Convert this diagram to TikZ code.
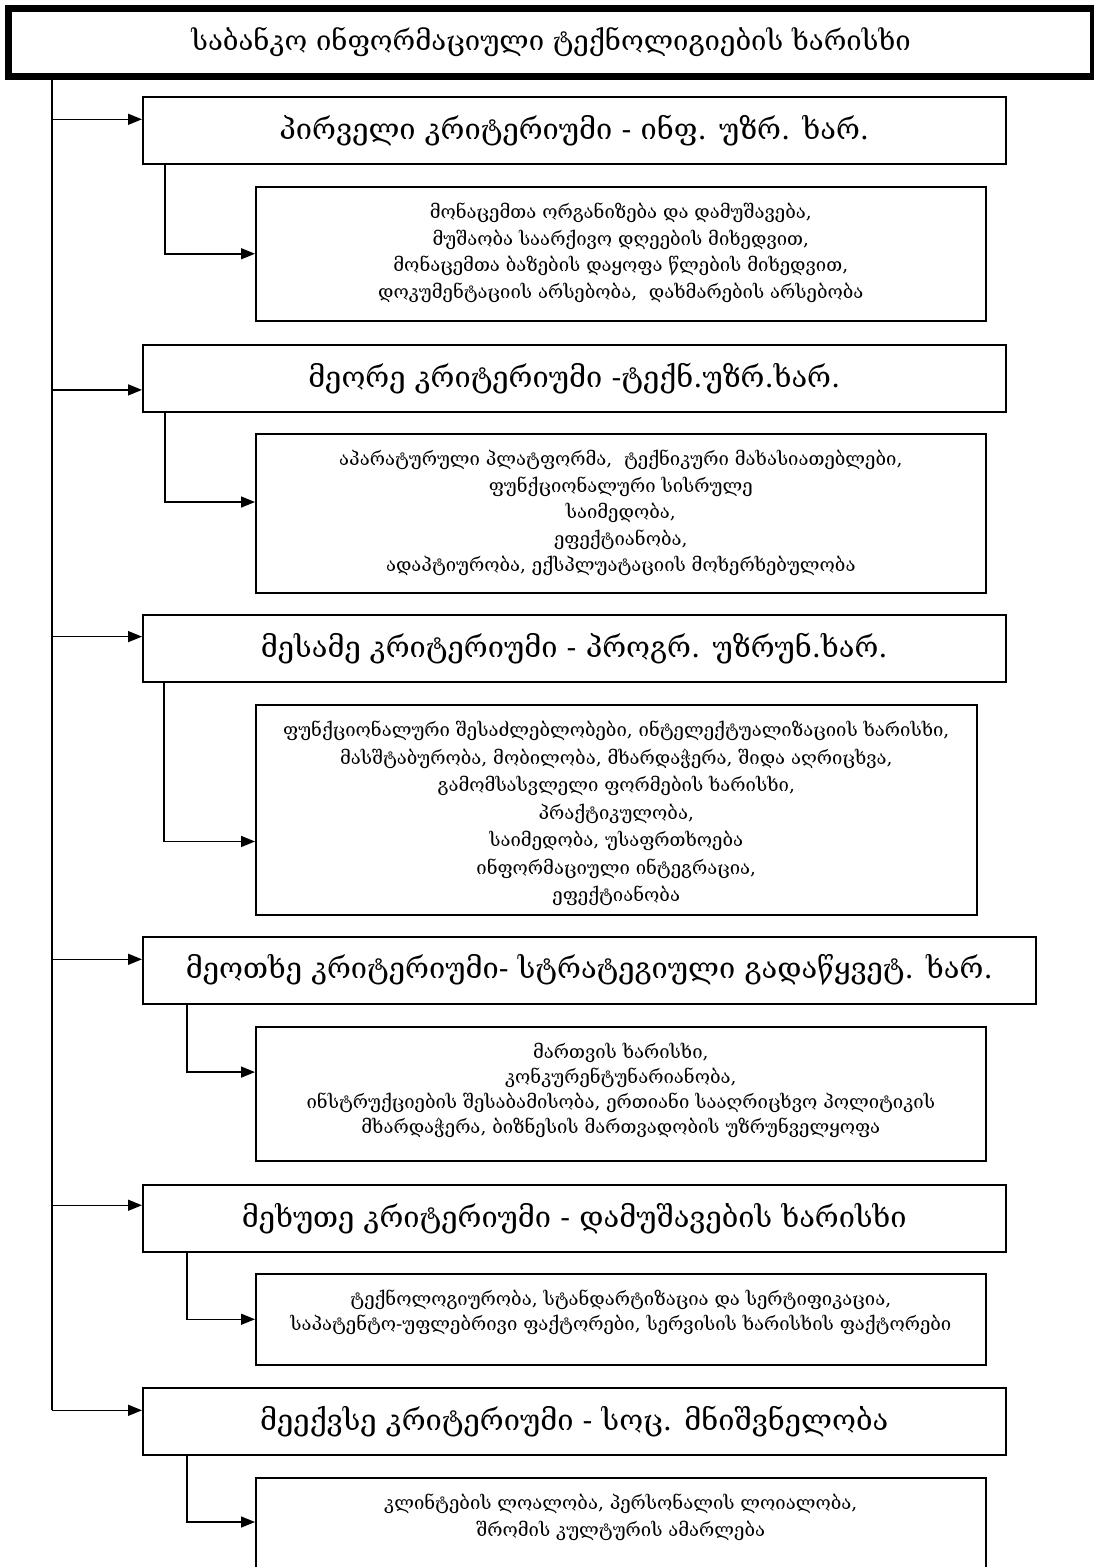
\documentclass[tikz,border=0pt]{standalone}
\usepackage{fontspec}
\setmainfont{DejaVu Serif}
\usetikzlibrary{arrows.meta,calc}
% detail text: fixed-size box, lines set from the top
\newcommand\detail[3]{\parbox[c][#2][t]{#1}{\centering\rule{0pt}{32pt}#3}}
\begin{document}
\begin{tikzpicture}[x=1pt,y=-1pt,
  box/.style={draw, line width=1.5pt, inner sep=0pt, anchor=north west, align=center},
  crit/.style={box, minimum height=67pt, font=\fontsize{29}{33}\selectfont},
  sub/.style={box, font=\fontsize{18.5}{26.5}\selectfont},
  ln/.style={line width=1.5pt},
  arr/.style={ln, -{Triangle[length=14pt,width=11pt]}}]
\useasboundingbox (0,0) rectangle (1094,1567);

% heading
\node[draw, line width=7pt, anchor=north west, inner sep=0pt,
      minimum width=1085pt, minimum height=68pt,
      font=\fontsize{27.5}{32}\selectfont] (title) at (5,5)
  {საბანკო ინფორმაციული ტექნოლიგიების ხარისხი};

% criteria and their details
\node[crit, minimum width=863pt] (c1) at (142,96) {პირველი კრიტერიუმი - ინფ. უზრ. ხარ.};
\node[sub] (s1) at (255,186) {\detail{730pt}{134pt}
  {მონაცემთა ორგანიზება და დამუშავება,\\ მუშაობა საარქივო დღეების მიხედვით,\\ მონაცემთა ბაზების დაყოფა წლების მიხედვით,\\ დოკუმენტაციის არსებობა,\ \ დახმარების არსებობა}};

\node[crit, minimum width=863pt] (c2) at (142,344) {მეორე კრიტერიუმი -ტექნ.უზრ.ხარ.};
\node[sub] (s2) at (255,433) {\detail{730pt}{159pt}
  {აპარატურული პლატფორმა,\ \ ტექნიკური მახასიათებლები,\\ ფუნქციონალური სისრულე\\ საიმედობა,\\ ეფექტიანობა,\\ ადაპტიურობა, ექსპლუატაციის მოხერხებულობა}};

\node[crit, minimum width=863pt] (c3) at (142,614) {მესამე კრიტერიუმი - პროგრ. უზრუნ.ხარ.};
\node[sub] (s3) at (255,704) {\detail{721pt}{210pt}
  {\fontsize{18.5}{27.5}\selectfont ფუნქციონალური შესაძლებლობები, ინტელექტუალიზაციის ხარისხი,\\ მასშტაბურობა, მობილობა, მხარდაჭერა, შიდა აღრიცხვა,\\ გამომსასვლელი ფორმების ხარისხი,\\ პრაქტიკულობა,\\ საიმედობა, უსაფრთხოება\\ ინფორმაციული ინტეგრაცია,\\ ეფექტიანობა}};

\node[crit, minimum width=893pt] (c4) at (142,936) {მეოთხე კრიტერიუმი- სტრატეგიული გადაწყვეტ. ხარ.};
\node[sub] (s4) at (255,1026) {\detail{730pt}{134pt}
  {\fontsize{18.5}{25}\selectfont მართვის ხარისხი,\\ კონკურენტუნარიანობა,\\ ინსტრუქციების შესაბამისობა, ერთიანი სააღრიცხვო პოლიტიკის\\ მხარდაჭერა, ბიზნესის მართვადობის უზრუნველყოფა}};

\node[crit, minimum width=863pt] (c5) at (142,1184) {მეხუთე კრიტერიუმი - დამუშავების ხარისხი};
\node[sub] (s5) at (255,1273) {\detail{730pt}{91pt}
  {\fontsize{18.5}{25}\selectfont ტექნოლოგიურობა, სტანდარტიზაცია და სერტიფიკაცია,\\ საპატენტო-უფლებრივი ფაქტორები, სერვისის ხარისხის ფაქტორები}};

\node[crit, minimum width=863pt] (c6) at (142,1387) {მეექვსე კრიტერიუმი - სოც. მნიშვნელობა};
\node[sub] (s6) at (255,1477) {\detail{730pt}{110pt}
  {კლინტების ლოალობა, პერსონალის ლოიალობა,\\ შრომის კულტურის ამარლება}};

% entry points of the arrows
\coordinate (trunk) at (52,0);
\coordinate (c1in) at ($(c1.north west)!0.34!(c1.south west)$);
\coordinate (c2in) at ($(c2.north west)!0.67!(c2.south west)$);
\coordinate (c3in) at ($(c3.north west)!0.33!(c3.south west)$);
\coordinate (c4in) at ($(c4.north west)!0.34!(c4.south west)$);
\coordinate (c5in) at ($(c5.north west)!0.31!(c5.south west)$);
\coordinate (c6in) at ($(c6.north west)!0.34!(c6.south west)$);
\coordinate (s1in) at ($(s1.north west)!0.50!(s1.south west)$);
\coordinate (s2in) at ($(s2.north west)!0.43!(s2.south west)$);
\coordinate (s3in) at ($(s3.north west)!0.65!(s3.south west)$);
\coordinate (s4in) at ($(s4.north west)!0.34!(s4.south west)$);
\coordinate (s5in) at ($(s5.north west)!0.50!(s5.south west)$);
\coordinate (s6in) at ([yshift=-45pt]s6.north west);

% main trunk from the heading
\draw[ln] (title.south -| trunk) -- (trunk |- c6in);
\foreach \c in {c1,c2,c3,c4,c5,c6}
  \draw[arr] (trunk |- \c in) -- (\c in);

% branches from each criterion to its details
\draw[arr] ([xshift=23pt]c1.south west) |- (s1in);
\draw[arr] ([xshift=23pt]c2.south west) |- (s2in);
\draw[arr] ([xshift=22pt]c3.south west) |- (s3in);
\draw[arr] ([xshift=45pt]c4.south west) |- (s4in);
\draw[arr] ([xshift=45pt]c5.south west) |- (s5in);
\draw[arr] ([xshift=45pt]c6.south west) |- (s6in);
\end{tikzpicture}
\end{document}
